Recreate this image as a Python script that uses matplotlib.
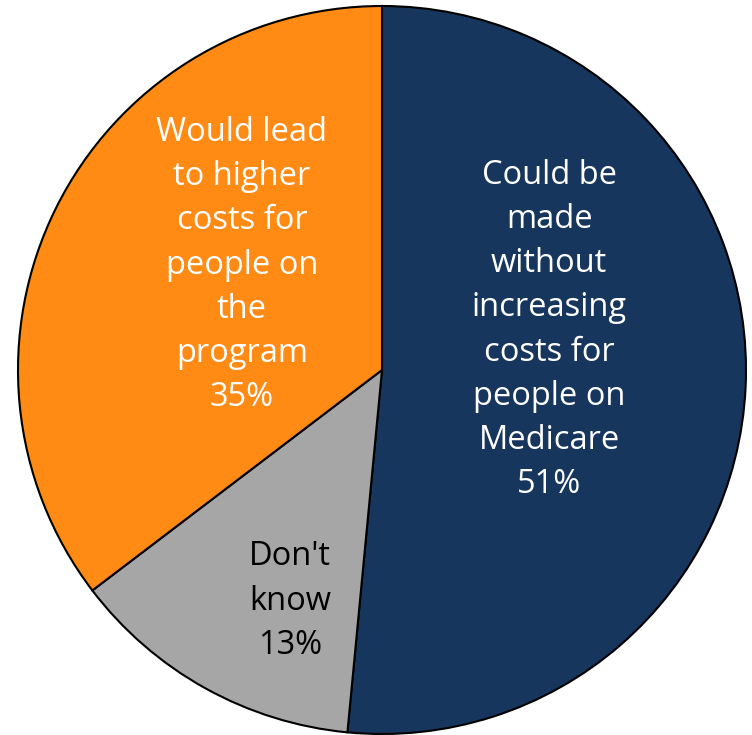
import matplotlib
matplotlib.use("Agg")
import matplotlib.pyplot as plt

# Survey responses: whether Medicare savings could be made without raising costs
categories = [
    "Could be\nmade\nwithout\nincreasing\ncosts for\npeople on\nMedicare",
    "Don't\nknow",
    "Would lead\nto higher\ncosts for\npeople on\nthe\nprogram",
]
values = [51, 13, 35]
colors = ["#17365D", "#A6A6A6", "#FF8A14"]
text_colors = ["white", "black", "white"]
label_pos = [(0.459, 0.11), (-0.253, -0.635), (-0.385, 0.288)]

W, H = 752, 735
fig = plt.figure(figsize=(W / 100, H / 100), dpi=100)
cx, cy, r = 382, 370, 364
ax = fig.add_axes([(cx - r) / W, (H - cy - r) / H, 2 * r / W, 2 * r / H])

wedges, _ = ax.pie(
    values,
    colors=colors,
    startangle=90,
    counterclock=False,
    radius=1,
    wedgeprops=dict(edgecolor="black", linewidth=1.5),
)
ax.set_xlim(-1, 1)
ax.set_ylim(-1, 1)
ax.set_aspect("equal")
ax.axis("off")

for cat, v, tc, (x, y) in zip(categories, values, text_colors, label_pos):
    ax.text(x, y, f"{cat}\n{v}%", ha="center", va="center", color=tc,
            fontsize=23.5, family="Open Sans", linespacing=1.45)

fig.savefig("out.png", dpi=100)
